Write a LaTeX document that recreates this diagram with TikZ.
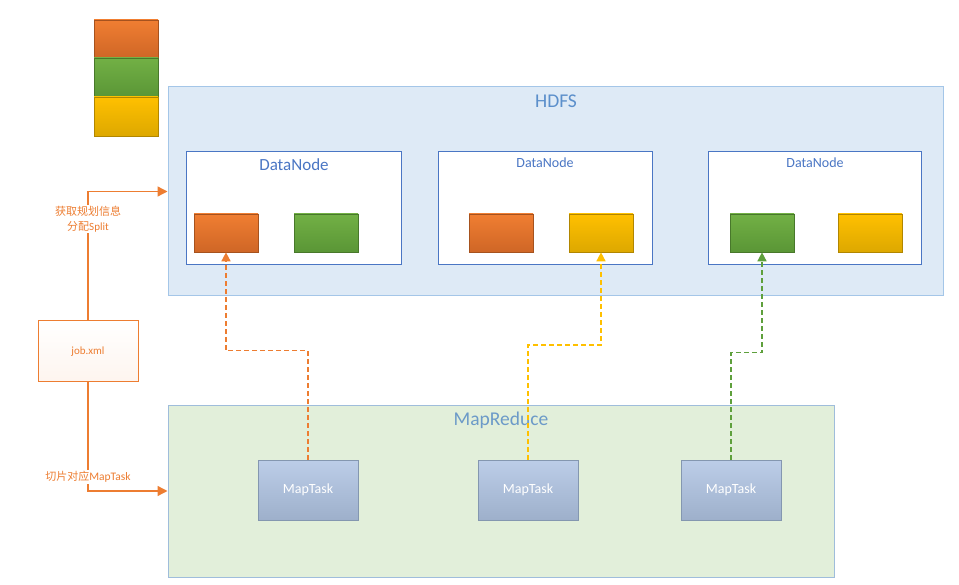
\documentclass[tikz,border=0pt]{standalone}
\usepackage{fontspec}
\setmainfont{Carlito}
\newfontfamily\cjk{Noto Sans CJK SC}
\usetikzlibrary{arrows.meta,calc}
\definecolor{orA}{HTML}{F07E32}
\definecolor{orB}{HTML}{CF6626}
\definecolor{orL}{HTML}{ED7D31}
\definecolor{grA}{HTML}{72B045}
\definecolor{grB}{HTML}{5A9636}
\definecolor{ylA}{HTML}{FFC000}
\definecolor{ylB}{HTML}{DDA800}
\definecolor{hdfsF}{HTML}{DEEAF6}
\definecolor{hdfsD}{HTML}{A4C6E8}
\definecolor{hdfsT}{HTML}{5B8FCB}
\definecolor{dnD}{HTML}{4A76C4}
\definecolor{mrF}{HTML}{E2EFDA}
\definecolor{mrD}{HTML}{9FBDDB}
\definecolor{mrT}{HTML}{6C9AC8}
\definecolor{mtA}{HTML}{BCCDE8}
\definecolor{mtB}{HTML}{9EB0CB}
\definecolor{mtD}{HTML}{8497B0}
\definecolor{grL}{HTML}{5EA03C}
\definecolor{ylL}{HTML}{FFC000}
\tikzset{
  x=1pt,y=-1pt,
  blk/.style={draw=#1B!80!black,line width=0.7pt,minimum width=64pt,minimum height=38pt,inner sep=0pt,top color=#1A,bottom color=#1B},
  dnbox/.style={draw=dnD,fill=white,line width=1pt,minimum width=#1,minimum height=113pt,inner sep=0pt},
  dntitle/.style={text=dnD,font=\fontsize{#1}{#1}\selectfont},
  mtask/.style={draw=mtD,line width=0.8pt,minimum width=100pt,minimum height=60pt,inner sep=0pt,top color=mtA,bottom color=mtB,text=white,font=\fontsize{14}{14}\selectfont},
  flow/.style={orL,line width=1.4pt,-{Triangle[length=10pt,width=10pt]}},
  dashln/.style={draw=#1,line width=1.6pt,dash pattern=on 5pt off 3pt,-{Triangle[length=9pt,width=9pt]}},
  lbl/.style={fill=white,text=orL,inner sep=1pt,align=center,font=\cjk\fontsize{11}{14.5}\selectfont},
}
\begin{document}
\begin{tikzpicture}
\useasboundingbox (0,0) rectangle (959,585);
% legend stack
\node[blk=or,minimum height=38pt] (lgo) at (126,39) {};
\node[blk=gr,minimum height=39pt] (lgg) at (126,77.5) {};
\node[blk=yl,minimum height=39pt] (lgy) at (126,116.5) {};
% HDFS
\node[draw=hdfsD,fill=hdfsF,line width=1pt,minimum width=775pt,minimum height=209pt,inner sep=0pt] (hdfs) at (555.5,191.5) {};
\node[text=hdfsT,font=\fontsize{19.5}{19.5}\selectfont] (hdfst) at (556,101) {HDFS};
% DataNodes
\node[dnbox=215pt] (dn1) at (293.5,208.5) {};
\node[dnbox=214pt] (dn2) at (545,208.5) {};
\node[dnbox=213pt] (dn3) at (814.5,208.5) {};
\node[dntitle=17] (dn1t) at (294,165) {DataNode};
\node[dntitle=14] (dn2t) at (545,163) {DataNode};
\node[dntitle=14] (dn3t) at (815,163) {DataNode};
\node[blk=or] (b1o) at (226,233) {};
\node[blk=gr] (b1g) at (326,233) {};
\node[blk=or] (b2o) at (501,233) {};
\node[blk=yl] (b2y) at (601,233) {};
\node[blk=gr] (b3g) at (762,233) {};
\node[blk=yl] (b3y) at (870,233) {};
% MapReduce
\node[draw=mrD,fill=mrF,line width=1pt,minimum width=666pt,minimum height=172pt,inner sep=0pt] (mr) at (501,491) {};
\node[text=mrT,font=\fontsize{19.5}{19.5}\selectfont] (mrt) at (501,420) {MapReduce};
\node[mtask] (mt1) at (308,490) {MapTask};
\node[mtask] (mt2) at (528,490) {MapTask};
\node[mtask] (mt3) at (731,490) {MapTask};
% job.xml
\node[draw=orL,line width=1pt,minimum width=100pt,minimum height=61pt,inner sep=0pt,top color=white,bottom color=orL!8,text=orL,font=\fontsize{11}{11}\selectfont] (job) at (88,351.5) {job.xml};
% flows
\draw[flow] (job.north) |- (hdfs.west);
\draw[flow] (job.south) |- (mr.west);
\node[lbl] (l1) at (88,219) {获取规划信息\\分配{\fontspec{Carlito}Split}};
\node[lbl] (l2) at (88,477) {切片对应{\fontspec{Carlito}\fontsize{11.5}{11.5}\selectfont MapTask}};
% dashed
\draw[dashln=orL] (mt1.north) -- (mt1.north |- 0,350.5) -| (b1o.south);
\draw[dashln=ylL] (mt2.north) -- (mt2.north |- 0,345) -| (b2y.south);
\draw[dashln=grL] (mt3.north) -- (mt3.north |- 0,352.5) -| (b3g.south);
\end{tikzpicture}
\end{document}
